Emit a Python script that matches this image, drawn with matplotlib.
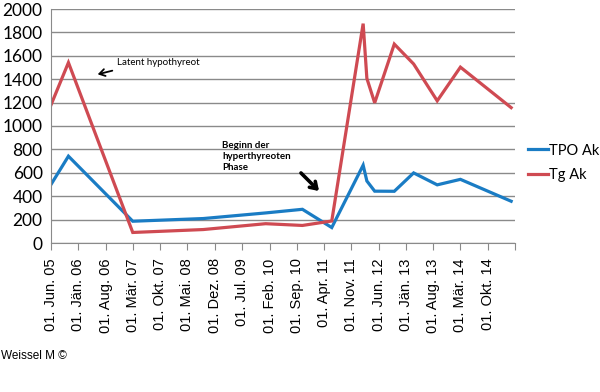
import matplotlib
matplotlib.use("Agg")
import matplotlib.pyplot as plt
import pandas as pd

# data
dates = ['2005-06-01', '2005-10-15', '2007-03-01', '2008-09-01', '2010-01-01',
         '2010-10-15', '2011-06-01', '2012-02-01', '2012-03-01', '2012-05-01',
         '2012-10-01', '2013-03-01', '2013-09-01', '2014-03-01', '2015-04-01']
tpo_ak = [500, 742, 186, 209, 257, 288, 132, 665, 530, 443, 442, 599, 497, 544, 357]
tg_ak = [1180, 1542, 90, 115, 165, 150, 188, 1875, 1407, 1198, 1700, 1530, 1215, 1503, 1157]

monate = ['Jän.', 'Feb.', 'Mär.', 'Apr.', 'Mai.', 'Jun.',
          'Jul.', 'Aug.', 'Sep.', 'Okt.', 'Nov.', 'Dez.']

x = pd.to_datetime(dates)
ticks = pd.date_range('2005-06-01', periods=18, freq='7MS')
tick_labels = ['01. %s %02d' % (monate[t.month - 1], t.year % 100) for t in ticks[:-1]] + ['']

blue = '#1a7cc4'
red = '#cf4a52'
grey = '#8a8a8a'

fig = plt.figure(figsize=(6, 3.92), dpi=100)
ax = fig.add_axes([51 / 600, 1 - 243 / 392, 464 / 600, 234 / 392])

ax.plot(x, tpo_ak, color=blue, lw=2.3, label='TPO Ak', solid_joinstyle='miter')
ax.plot(x, tg_ak, color=red, lw=2.3, label='Tg Ak', solid_joinstyle='miter')

ax.set_ylim(0, 2000)
ax.set_yticks(range(0, 2001, 200))
ax.set_xlim(ticks[0], ticks[-1])
ax.set_xticks(ticks)
ax.set_xticklabels(tick_labels, rotation=90, fontfamily='Liberation Sans', fontsize=10.5)
for lab in ax.get_yticklabels():
    lab.set_fontfamily('Lato')
    lab.set_fontsize(12.5)

ax.grid(axis='y', color=grey, lw=1)
ax.set_axisbelow(True)
for s in ['top', 'right']:
    ax.spines[s].set_visible(False)
for s in ['left', 'bottom']:
    ax.spines[s].set_color(grey)
ax.tick_params(axis='y', length=0, pad=6)
ax.tick_params(axis='x', length=5, color=grey, pad=6, direction='out')

ax.legend(loc='center left', bbox_to_anchor=(528 / 600, 1 - 163 / 392),
          bbox_transform=fig.transFigure, frameon=False,
          prop={'family': 'Lato', 'size': 10.5}, handlelength=1.4,
          handletextpad=0.05, labelspacing=0.75, borderaxespad=0, borderpad=0)


def px(xp, yp):
    return (xp / 600, 1 - yp / 392)


fig.text(*px(117, 62.5), 'Latent hypothyreot', fontsize=7, fontfamily='Lato', va='center')
ax.annotate('', xy=px(95, 75), xycoords='figure fraction',
            xytext=px(115, 70), textcoords='figure fraction',
            arrowprops=dict(arrowstyle='->, head_length=0.4, head_width=0.25', lw=1.3, color='black'))

fig.text(*px(222, 141), 'Beginn der\nhyperthyreoten\nPhase', fontsize=7, fontweight='bold',
         fontfamily='Lato', va='top', linespacing=1.3)
ax.annotate('', xy=px(321, 193), xycoords='figure fraction',
            xytext=px(299, 171), textcoords='figure fraction',
            arrowprops=dict(arrowstyle='->, head_length=0.45, head_width=0.3', lw=2.6, color='black'))

fig.text(*px(1, 356), 'Weissel M ©', fontsize=8.5, fontfamily='Liberation Sans', va='center')

fig.savefig('out.png', dpi=100)
